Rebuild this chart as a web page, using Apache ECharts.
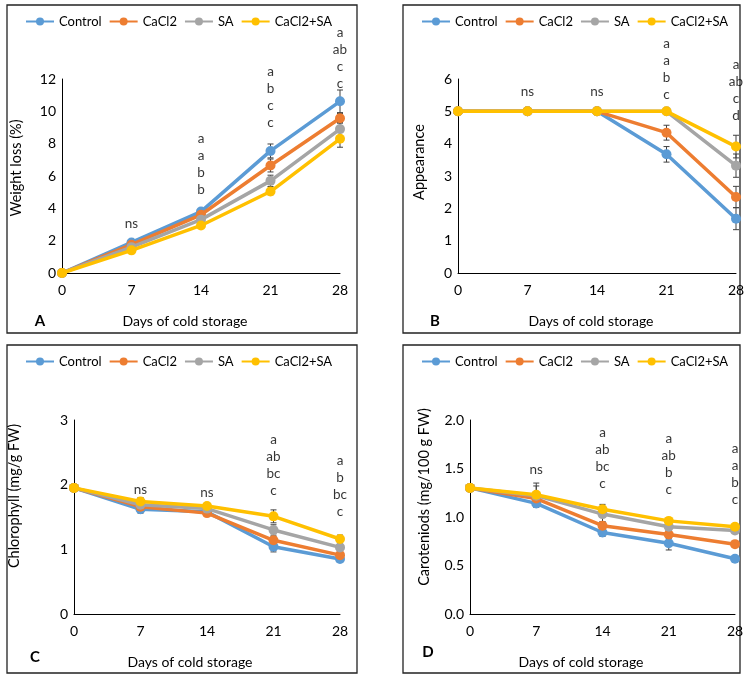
<!DOCTYPE html>
<html>
<head>
<meta charset="utf-8">
<script src="https://cdn.jsdelivr.net/npm/echarts@6/dist/echarts.min.js"></script>
<style>
html,body{margin:0;padding:0;background:#fff;}
#chart{width:756px;height:679px;}
</style>
</head>
<body>
<div id="chart"></div>
<script>
// ---------- data ----------
const days = ['0', '7', '14', '21', '28'];
const treatments = ['Control', 'CaCl2', 'SA', 'CaCl2+SA'];
const colors = ['#5B9BD5', '#ED7D31', '#A5A5A5', '#FFC000'];

// A: Weight loss (%)
const weightLossValues = [
  [0, 1.89, 3.80, 7.55, 10.62],
  [0, 1.75, 3.60, 6.65, 9.57],
  [0, 1.60, 3.30, 5.70, 8.90],
  [0, 1.40, 2.94, 5.04, 8.30]
];
const weightLossErrors = [
  [0, 0.10, 0.12, 0.43, 0.70],
  [0, 0.10, 0.12, 0.40, 0.30],
  [0, 0.10, 0.12, 0.35, 0.40],
  [0, 0.10, 0.10, 0.20, 0.52]
];
const weightLossLetters = ['', 'ns', 'a\na\nb\nb', 'a\nb\nc\nc', 'a\nab\nc\nc'];
const weightLossLetterY = [0, 2.5, 4.6, 8.8, 11.2];

// B: Appearance
const appearanceValues = [
  [5, 5, 5, 3.67, 1.68],
  [5, 5, 5, 4.34, 2.35],
  [5, 5, 5, 5, 3.32],
  [5, 5, 5, 5, 3.91]
];
const appearanceErrors = [
  [0, 0, 0, 0.24, 0.34],
  [0, 0, 0, 0.23, 0.33],
  [0, 0, 0, 0, 0.36],
  [0, 0, 0, 0, 0.35]
];
const appearanceLetters = ['', 'ns', 'ns', 'a\na\nb\nc', 'a\nab\nc\nd'];
const appearanceLetterY = [0, 5.36, 5.36, 5.24, 4.59];

// C: Chlorophyll (mg/g FW)
const chlorophyllValues = [
  [1.95, 1.62, 1.58, 1.04, 0.85],
  [1.95, 1.66, 1.56, 1.14, 0.91],
  [1.95, 1.69, 1.63, 1.30, 1.03],
  [1.95, 1.74, 1.67, 1.51, 1.16]
];
const chlorophyllErrors = [
  [0.02, 0.06, 0.04, 0.08, 0.04],
  [0.02, 0.05, 0.04, 0.06, 0.04],
  [0.02, 0.05, 0.04, 0.08, 0.05],
  [0.02, 0.06, 0.04, 0.10, 0.06]
];
const chlorophyllLetters = ['', 'ns', 'ns', 'a\nab\nbc\nc', 'a\nb\nbc\nc'];
const chlorophyllLetterY = [0, 1.79, 1.75, 1.78, 1.45];

// D: Carotenoids (mg/100 g FW)
const carotenoidValues = [
  [1.30, 1.14, 0.84, 0.73, 0.57],
  [1.30, 1.19, 0.91, 0.82, 0.72],
  [1.30, 1.22, 1.03, 0.90, 0.86],
  [1.30, 1.23, 1.08, 0.96, 0.90]
];
const carotenoidErrors = [
  [0.01, 0.04, 0.04, 0.07, 0.02],
  [0.01, 0.05, 0.04, 0.04, 0.03],
  [0.01, 0.10, 0.08, 0.04, 0.03],
  [0.01, 0.12, 0.05, 0.03, 0.03]
];
const carotenoidLetters = ['', 'ns', 'a\nab\nbc\nc', 'a\nab\nb\nc', 'a\na\nb\nc'];
const carotenoidLetterY = [0, 1.40, 1.26, 1.19, 1.09];

const yTitles = ['Weight loss (%)', 'Appearance', 'Chlorophyll (mg/g FW)', 'Caroteniods (mg/100 g FW)'];
const xTitle = 'Days of cold storage';
const panelLetters = ['A', 'B', 'C', 'D'];

// ---------- layout ----------
const FONT = 'Lato, "Open Sans", sans-serif';
const panels = [
  {values: weightLossValues, errors: weightLossErrors, letters: weightLossLetters, letterY: weightLossLetterY,
   grid: {left: 62, top: 79, width: 278, height: 194}, y: {max: 12, interval: 2, dec: 0}, yt: [16, 168],
   legend: {left: 20, top: 10}, frame: [7, 5, 350, 328], xt: [185, 321], pl: [40, 321]},
  {values: appearanceValues, errors: appearanceErrors, letters: appearanceLetters, letterY: appearanceLetterY,
   grid: {left: 458, top: 79, width: 278, height: 194}, y: {max: 6, interval: 1, dec: 0}, yt: [419, 162],
   legend: {left: 416, top: 10}, frame: [403, 5, 337, 328], xt: [591, 321], pl: [435, 321]},
  {values: chlorophyllValues, errors: chlorophyllErrors, letters: chlorophyllLetters, letterY: chlorophyllLetterY,
   grid: {left: 74, top: 420, width: 266, height: 194}, y: {max: 3, interval: 1, dec: 0}, yt: [14, 496],
   legend: {left: 20, top: 350}, frame: [7, 345, 350, 328], xt: [190, 662], pl: [35, 657]},
  {values: carotenoidValues, errors: carotenoidErrors, letters: carotenoidLetters, letterY: carotenoidLetterY,
   grid: {left: 470, top: 420, width: 265, height: 194}, y: {max: 2, interval: 0.5, dec: 1}, yt: [424, 497],
   legend: {left: 416, top: 350}, frame: [403, 345, 337, 328], xt: [581, 662], pl: [428, 652]}
];

const option = {
  backgroundColor: '#fff',
  animation: false,
  textStyle: {fontFamily: FONT},
  grid: [], xAxis: [], yAxis: [], legend: [], series: [], graphic: []
};

panels.forEach((p, i) => {
  option.grid.push(Object.assign({containLabel: false}, p.grid));
  option.xAxis.push({
    type: 'category', gridIndex: i, data: days, boundaryGap: false,
    axisLine: {lineStyle: {color: '#000', width: 1}},
    axisTick: {show: false},
    axisLabel: {color: '#000', fontSize: 14, margin: 10, fontFamily: FONT}
  });
  option.yAxis.push({
    type: 'value', gridIndex: i, min: 0, max: p.y.max, interval: p.y.interval,
    axisLine: {show: true, lineStyle: {color: '#000', width: 1}},
    axisTick: {show: false},
    splitLine: {show: false},
    axisLabel: {color: '#000', fontSize: 14, margin: 6, fontFamily: FONT,
      formatter: v => v.toFixed(p.y.dec)}
  });
  option.legend.push({
    left: p.legend.left, top: p.legend.top, width: 340, data: treatments,
    itemWidth: 28, itemHeight: 10, itemGap: 7,
    textStyle: {color: '#000', fontSize: 13, fontFamily: FONT},
    selectedMode: false
  });
  // error bars
  const errData = [];
  p.values.forEach((vals, s) => vals.forEach((v, d) => {
    if (p.errors[s][d] > 0) errData.push([d, v, p.errors[s][d]]);
  }));
  option.series.push({
    type: 'custom', name: 'err' + i, xAxisIndex: i, yAxisIndex: i, z: 1,
    data: errData, silent: true,
    renderItem: (params, api) => {
      const x = api.value(0), v = api.value(1), e = api.value(2);
      const top = api.coord([x, v + e]);
      const bot = api.coord([x, v - e]);
      const cw = 3;
      const style = {stroke: '#404040', lineWidth: 1};
      return {type: 'group', children: [
        {type: 'line', shape: {x1: top[0], y1: top[1], x2: bot[0], y2: bot[1]}, style},
        {type: 'line', shape: {x1: top[0] - cw, y1: top[1], x2: top[0] + cw, y2: top[1]}, style},
        {type: 'line', shape: {x1: bot[0] - cw, y1: bot[1], x2: bot[0] + cw, y2: bot[1]}, style}
      ]};
    }
  });
  // lines
  treatments.forEach((name, s) => {
    option.series.push({
      type: 'line', name, xAxisIndex: i, yAxisIndex: i, z: 2 + s,
      data: p.values[s], symbol: 'circle', symbolSize: 10, showSymbol: true,
      lineStyle: {color: colors[s], width: 3.5},
      itemStyle: {color: colors[s]}
    });
  });
  // letters
  option.series.push({
    type: 'scatter', name: 'letters' + i, xAxisIndex: i, yAxisIndex: i, z: 10,
    symbolSize: 0, silent: true,
    data: p.letters.map((t, d) => ({value: [d, p.letterY[d]], label: {formatter: t}})).filter(o => o.label.formatter !== ''),
    label: {show: true, position: 'top', distance: 0, color: '#000', fontSize: 13.5, lineHeight: 17, align: 'center', fontFamily: FONT}
  });
  // frame and titles
  option.graphic.push({type: 'rect', shape: {x: p.frame[0], y: p.frame[1], width: p.frame[2], height: p.frame[3]},
    style: {fill: 'none', stroke: '#222', lineWidth: 1.3}, z: 0, silent: true});
  option.graphic.push({type: 'text', x: p.xt[0], y: p.xt[1], style: {text: xTitle, fill: '#000', font: '14px ' + FONT, textAlign: 'center', textVerticalAlign: 'middle'}});
  option.graphic.push({type: 'text', x: p.yt[0], y: p.yt[1], rotation: Math.PI / 2,
    style: {text: yTitles[i], fill: '#000', font: '14.5px ' + FONT, textAlign: 'center', textVerticalAlign: 'middle'}});
  option.graphic.push({type: 'text', x: p.pl[0], y: p.pl[1], style: {text: panelLetters[i], fill: '#000', font: 'bold 15px ' + FONT, textAlign: 'center', textVerticalAlign: 'middle'}});
});

const chart = echarts.init(document.getElementById('chart'), null, {renderer: 'canvas'});
chart.setOption(option);
</script>
</body>
</html>
